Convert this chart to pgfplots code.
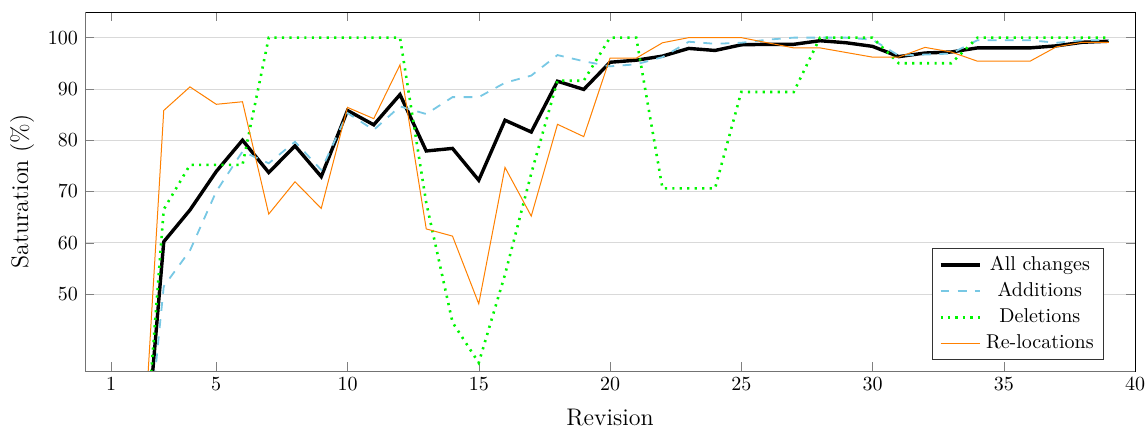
\documentclass[border=0pt]{standalone}
\usepackage{pgfplots}
\pgfplotsset{compat=1.18}
\definecolor{addblue}{RGB}{120,200,228}
\definecolor{delgreen}{RGB}{0,245,0}
\definecolor{relorange}{RGB}{255,128,0}
\begin{document}
\begin{tikzpicture}
\begin{axis}[
  scale only axis,
  width=525pt, height=179.5pt,
  xmin=0, xmax=40, ymin=35, ymax=105,
  xtick={1,5,10,15,20,25,30,35,40},
  ytick={50,60,70,80,90,100},
  ymajorgrids,
  grid style={black!15},
  xlabel={Revision},
  ylabel={Saturation (\%)},
  label style={font=\large},
  xlabel shift=2pt,
  legend cell align=center,
  legend image code/.code={\draw[mark repeat=2,mark phase=2,#1] plot coordinates {(0cm,0cm) (0.35cm,0cm) (0.7cm,0cm)};},
  legend style={at={(0.9705,0.0306)}, anchor=south east, draw=black!80, font=\normalsize, row sep=0.5pt},
  after end axis/.code={
    \draw[black!55] (rel axis cs:0,1) -- (rel axis cs:0,0) -- (rel axis cs:1,0);
    \coordinate (llc) at (rel axis cs:0,0);
    \coordinate (urc) at (rel axis cs:1,1);
  },
]
\addplot[black, line width=1.7pt] coordinates {
(2,0) (3,60.2) (4,66.4) (5,73.9) (6,80.0) (7,73.7) (8,78.9) (9,72.9) (10,85.8)
(11,83.0) (12,88.9) (13,77.9) (14,78.4) (15,72.2) (16,83.9) (17,81.6) (18,91.5)
(19,89.9) (20,95.2) (21,95.6) (22,96.4) (23,97.9) (24,97.5) (25,98.6) (26,98.7)
(27,98.7) (28,99.4) (29,99.0) (30,98.3) (31,96.3) (32,97.0) (33,97.2) (34,98.0)
(35,98.0) (36,98.0) (37,98.4) (38,99.1) (39,99.3)};
\addlegendentry{All changes}
\addplot[addblue, line width=0.9pt, dash pattern=on 4.4pt off 4.2pt] coordinates {
(2,0) (3,51.5) (4,58.5) (5,70.0) (6,77.8) (7,75.5) (8,79.7) (9,74.2) (10,85.3)
(11,82.0) (12,86.6) (13,85.1) (14,88.4) (15,88.4) (16,91.2) (17,92.6) (18,96.6)
(19,95.4) (20,94.4) (21,94.8) (22,96.2) (23,99.2) (24,98.8) (25,99.0) (26,99.6)
(27,100) (28,100) (29,100) (30,99.6) (31,96.5) (32,96.7) (33,96.9) (34,99.5)
(35,99.5) (36,99.5) (37,99.0) (38,99.5) (39,99.5)};
\addlegendentry{Additions}
\addplot[delgreen, line width=1.3pt, dash pattern=on 1.1pt off 2.63pt] coordinates {
(2,0) (3,66.5) (4,75.2) (5,75.2) (6,75.2) (7,100) (8,100) (9,100) (10,100)
(11,100) (12,100) (13,67.8) (14,44.5) (15,36.6) (16,53.8) (17,73.5) (18,91.6)
(19,91.6) (20,100) (21,100) (22,70.6) (23,70.6) (24,70.6) (25,89.4) (26,89.4)
(27,89.4) (28,100) (29,100) (30,100) (31,95.0) (32,95.0) (33,95.0) (34,100)
(35,100) (36,100) (37,100) (38,100) (39,100)};
\addlegendentry{Deletions}
\addplot[relorange, line width=0.5pt] coordinates {
(2,0) (3,85.8) (4,90.4) (5,87.0) (6,87.5) (7,65.6) (8,71.9) (9,66.7) (10,86.4)
(11,84.2) (12,94.7) (13,62.7) (14,61.3) (15,48.1) (16,74.7) (17,65.2) (18,83.1)
(19,80.7) (20,96.0) (21,96.0) (22,99.0) (23,100) (24,100) (25,100) (26,99.0)
(27,98.0) (28,98.0) (29,97.1) (30,96.2) (31,96.2) (32,98.1) (33,97.2) (34,95.4)
(35,95.4) (36,95.4) (37,98.2) (38,99.1) (39,99.1)};
\addlegendentry{Re-locations}
\end{axis}
\pgfresetboundingbox
\useasboundingbox ([xshift=-42.5pt,yshift=-30.5pt]llc) rectangle ([xshift=6.5pt,yshift=6pt]urc);
\end{tikzpicture}
\end{document}
